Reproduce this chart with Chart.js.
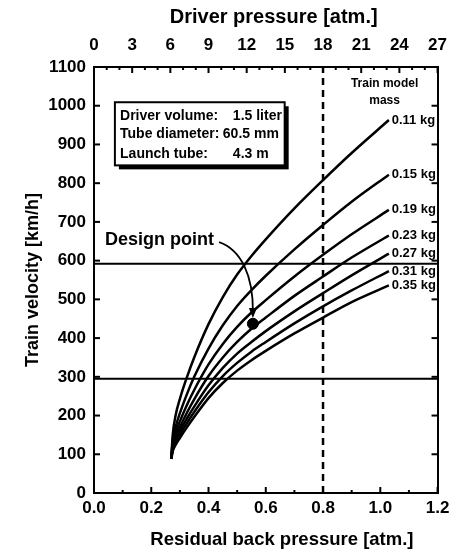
<!DOCTYPE html>
<html>
<head>
<meta charset="utf-8">
<script src="https://cdn.jsdelivr.net/npm/chart.js@4.4.0/dist/chart.umd.min.js"></script>
<style>
  html,body{margin:0;padding:0;background:#fff}
  canvas{display:block}
</style>
</head>
<body>
<canvas id="chart" width="458" height="552"></canvas>
<script>
// residual back pressure [atm.] shared by every mass curve
const backPressure = [0.27, 0.275, 0.285, 0.30, 0.325, 0.35, 0.40, 0.45, 0.50, 0.55, 0.60, 0.70, 0.80, 0.90, 1.03];

// train velocity [km/h], one array per train model mass
const massLabels = ['0.11 kg', '0.15 kg', '0.19 kg', '0.23 kg', '0.27 kg', '0.31 kg', '0.35 kg'];
const vel011 = [88, 150, 200, 243, 300, 350, 436, 506, 564, 612, 655, 735, 808, 878, 963];
const vel015 = [88, 138, 170, 206, 256, 300, 373, 433, 483, 524, 561, 629, 692, 752, 822];
const vel019 = [88, 128, 155, 185, 228, 266, 332, 385, 429, 466, 498, 559, 615, 668, 731];
const vel023 = [88, 121, 144, 170, 208, 242, 302, 350, 390, 424, 453, 509, 559, 608, 665];
const vel027 = [88, 116, 136, 160, 193, 223, 278, 323, 360, 390, 418, 469, 516, 562, 618];
const vel031 = [88, 112, 130, 151, 181, 209, 260, 302, 336, 365, 390, 438, 482, 523, 573];
const vel035 = [88, 108, 124, 142, 170, 196, 245, 284, 316, 343, 367, 412, 453, 493, 536];
const velocities = [vel011, vel015, vel019, vel023, vel027, vel031, vel035];

const designPoint = {x: 0.555, y: 437};
const limitVelocities = [592, 295];
const driverLimit = 0.8;

const infoLabels = ['Driver volume:', 'Tube diameter:', 'Launch tube:'];
const infoValues = ['1.5 liter', '60.5 mm', '4.3 m'];

const FONT = '"Liberation Sans", Arial, Helvetica, sans-serif';
const tickFont = {family: FONT, size: 17, weight: 'bold'};

const datasets = velocities.map((vals, i) => ({
  label: massLabels[i],
  data: vals.map((v, j) => ({x: backPressure[j], y: v})),
  borderColor: '#000', borderWidth: 2.5, pointRadius: 0,
  cubicInterpolationMode: 'monotone', fill: false
}));
limitVelocities.forEach(v => datasets.push({
  label: 'limit ' + v,
  data: [{x: 0, y: v}, {x: 1.2, y: v}],
  borderColor: '#000', borderWidth: 2, pointRadius: 0
}));
datasets.push({
  label: 'driver limit',
  data: [{x: driverLimit, y: 0}, {x: driverLimit, y: 1100}],
  borderColor: '#000', borderWidth: 2.5, borderDash: [7, 5], pointRadius: 0
});
datasets.push({
  label: 'Design point',
  type: 'scatter',
  data: [designPoint],
  pointRadius: 5.5, backgroundColor: '#000', borderColor: '#000'
});

// inward tick marks on all four sides
const tickMarks = {
  id: 'tickMarks',
  afterDraw(chart) {
    const {ctx, chartArea: a, scales} = chart;
    ctx.save();
    ctx.strokeStyle = '#000';
    ctx.lineWidth = 2;
    const mark = (scale, v, len) => {
      const p = scale.getPixelForValue(v);
      ctx.beginPath();
      if (scale.id === 'x') { ctx.moveTo(p, a.bottom); ctx.lineTo(p, a.bottom - len); }
      if (scale.id === 'x2') { ctx.moveTo(p, a.top); ctx.lineTo(p, a.top + len); }
      if (scale.id === 'y') { ctx.moveTo(a.left, p); ctx.lineTo(a.left + len, p); }
      if (scale.id === 'y2') { ctx.moveTo(a.right, p); ctx.lineTo(a.right - len, p); }
      ctx.stroke();
    };
    ['x', 'x2', 'y', 'y2'].forEach(id => {
      const s = scales[id];
      const t = s.ticks.map(k => k.value);
      t.forEach(v => mark(s, v, 6));
      const minorPer = id === 'x' ? 2 : id === 'x2' ? 3 : 1;
      for (let i = 0; i < t.length - 1; i++) {
        for (let k = 1; k < minorPer; k++) mark(s, t[i] + (t[i + 1] - t[i]) * k / minorPer, 3);
      }
    });
    ctx.restore();
  }
};

// axis titles, info box, mass labels and the design point arrow
const notes = {
  id: 'notes',
  afterDraw(chart) {
    const {ctx, chartArea: a, scales: {x, y}} = chart;
    const px = v => x.getPixelForValue(v), py = v => y.getPixelForValue(v);
    ctx.save();
    ctx.fillStyle = '#000';
    ctx.strokeStyle = '#000';
    ctx.textBaseline = 'middle';

    // horizontal axis titles (sit a little right of centre in the original)
    ctx.textAlign = 'center';
    ctx.font = 'bold 18.5px ' + FONT;
    ctx.fillText('Residual back pressure [atm.]', a.left + (a.right - a.left) * 0.547, chart.height - 12);
    ctx.font = 'bold 20px ' + FONT;
    ctx.fillText('Driver pressure [atm.]', a.left + (a.right - a.left) * 0.523, 17);

    // info box with shadow
    const bl = px(0.073), br = px(0.666), bt = py(1009), bb = py(846);
    ctx.fillRect(bl + 4, bt + 4, br - bl, bb - bt);
    ctx.fillStyle = '#fff';
    ctx.fillRect(bl, bt, br - bl, bb - bt);
    ctx.lineWidth = 2;
    ctx.strokeRect(bl, bt, br - bl, bb - bt);
    ctx.fillStyle = '#000';
    ctx.font = 'bold 14px ' + FONT;
    ctx.textAlign = 'left';
    const lineY = [973, 927, 876];
    const valX = [0.485, 0.45, 0.485];
    infoLabels.forEach((l, i) => {
      ctx.fillText(l, px(0.091), py(lineY[i]));
      ctx.fillText(infoValues[i], px(valX[i]), py(lineY[i]));
    });

    // mass legend on the right
    ctx.font = 'bold 12px ' + FONT;
    ctx.textAlign = 'center';
    ctx.fillText('Train model', px(1.015), py(1058));
    ctx.fillText('mass', px(1.015), py(1013));
    ctx.font = 'bold 13px ' + FONT;
    ctx.textAlign = 'left';
    velocities.forEach((vals, i) => {
      ctx.fillText(massLabels[i], px(1.04), py(vals[vals.length - 1]));
    });

    // design point label and curved arrow
    ctx.font = 'bold 18px ' + FONT;
    ctx.fillText('Design point', px(0.038), py(653));
    ctx.lineWidth = 1.8;
    ctx.beginPath();
    ctx.moveTo(px(0.437), py(648));
    ctx.bezierCurveTo(px(0.515), py(628), px(0.556), py(560), px(0.555), py(468));
    ctx.stroke();
    const tipX = px(0.555), tipY = py(452);
    ctx.beginPath();
    ctx.moveTo(tipX, tipY);
    ctx.lineTo(tipX - 4, tipY - 10);
    ctx.lineTo(tipX + 4, tipY - 10);
    ctx.closePath();
    ctx.fill();
    ctx.restore();
  }
};

const axisBase = {
  type: 'linear',
  grid: {display: false, drawTicks: false},
  border: {display: true, color: '#000', width: 2},
  ticks: {color: '#000', font: tickFont, autoSkip: false, maxRotation: 0}
};

new Chart(document.getElementById('chart').getContext('2d'), {
  type: 'line',
  data: {datasets},
  plugins: [tickMarks, notes],
  options: {
    responsive: false,
    animation: false,
    layout: {padding: 0},
    plugins: {legend: {display: false}, tooltip: {enabled: false}},
    scales: {
      x: {...axisBase, position: 'bottom', min: 0, max: 1.2,
        ticks: {...axisBase.ticks, stepSize: 0.2, padding: 5, callback: v => v.toFixed(1)},
        afterFit(s) { s.height = 59; }},
      x2: {...axisBase, position: 'top', min: 0, max: 27,
        ticks: {...axisBase.ticks, stepSize: 3, padding: 11, callback: v => String(v)},
        afterFit(s) { s.height = 67; }},
      y: {...axisBase, position: 'left', min: 0, max: 1100,
        ticks: {...axisBase.ticks, stepSize: 100, padding: 8, callback: v => String(v)},
        title: {display: true, text: 'Train velocity [km/h]', color: '#000',
          font: {family: FONT, size: 18, weight: 'bold'}, padding: {top: 22, bottom: 0}},
        afterFit(s) { s.width = 94; }},
      y2: {...axisBase, position: 'right', min: 0, max: 1100,
        ticks: {...axisBase.ticks, stepSize: 100, display: false},
        afterFit(s) { s.width = 20; }}
    }
  }
});
</script>
</body>
</html>
